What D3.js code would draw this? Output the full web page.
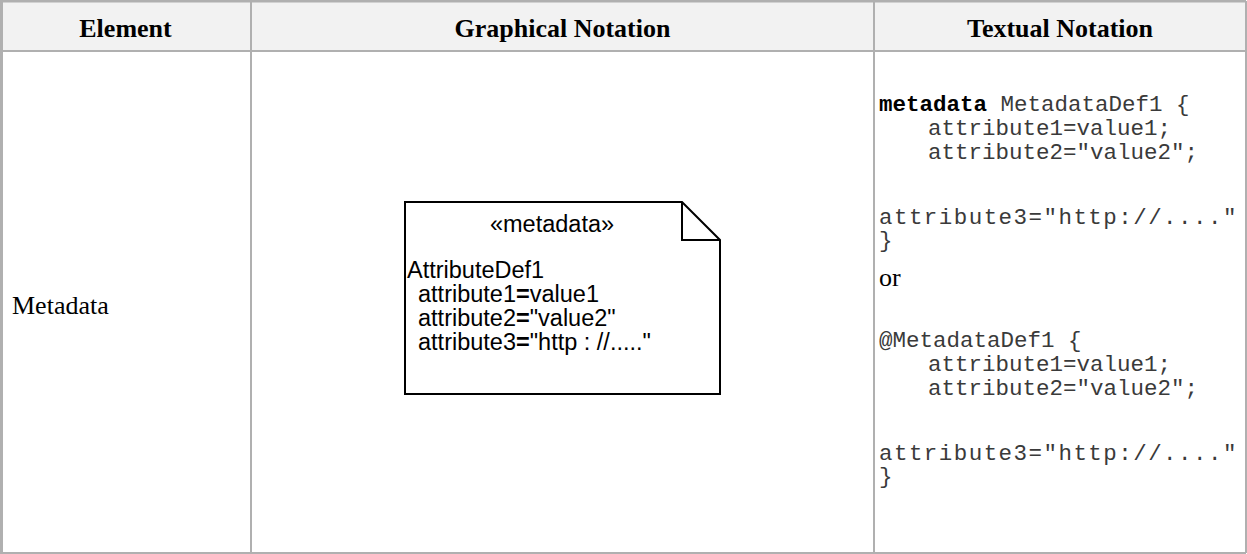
<!DOCTYPE html>
<html>
<head>
<meta charset="utf-8">
<script src="https://cdn.jsdelivr.net/npm/d3@7"></script>
<style>
  html, body { margin: 0; padding: 0; background: #fff; }
  svg { display: block; }
</style>
</head>
<body>
<svg id="chart" width="1247" height="554"></svg>
<script>
// ---- data ----
const columnHeaders = ["Element", "Graphical Notation", "Textual Notation"];
const columnEdges = [0, 251, 874, 1246];
const rowEdges = [1, 51, 553];
const elementName = "Metadata";
const noteStereotype = "«metadata»";
const noteName = "AttributeDef1";
const noteAttributes = [
  ["attribute1", "=", "value1"],
  ["attribute2", "=", "\"value2\""],
  ["attribute3", "=", "\"http : //.....\""]
];
const textualLines = [
  { bold: "metadata", text: " MetadataDef1 {", indent: false, row: 0, wide: false },
  { bold: "", text: "attribute1=value1;", indent: true, row: 1, wide: false },
  { bold: "", text: "attribute2=\"value2\";", indent: true, row: 2, wide: false },
  { bold: "", text: "attribute3=\"http://....\"", indent: false, row: 4.7, wide: true },
  { bold: "", text: "}", indent: false, row: 5.65, wide: false }
];
const orWord = "or";
const textualLines2 = [
  { bold: "", text: "@MetadataDef1 {", indent: false, row: 0, wide: false },
  { bold: "", text: "attribute1=value1;", indent: true, row: 1, wide: false },
  { bold: "", text: "attribute2=\"value2\";", indent: true, row: 2, wide: false },
  { bold: "", text: "attribute3=\"http://....\"", indent: false, row: 4.7, wide: true },
  { bold: "", text: "}", indent: false, row: 5.65, wide: false }
];

// ---- drawing ----
const svg = d3.select("#chart");
const border = "#b0b0b0";
const serif = "'Liberation Serif', 'Times New Roman', serif";
const sans = "'Liberation Sans', Arial, sans-serif";
const mono = "'Liberation Mono', 'Courier New', monospace";

// header background
svg.append("rect")
  .attr("x", columnEdges[0]).attr("y", rowEdges[0])
  .attr("width", columnEdges[3] - columnEdges[0])
  .attr("height", rowEdges[1] - rowEdges[0])
  .attr("fill", "#f2f2f2");

// grid lines
const g = svg.append("g").attr("stroke", border).attr("stroke-width", 2);
columnEdges.forEach((x, i) => {
  const xx = x + (i === 0 ? 1.5 : 0);
  g.append("line").attr("x1", xx).attr("x2", xx)
    .attr("y1", rowEdges[0]).attr("y2", rowEdges[2])
    .attr("stroke-width", i === 0 ? 3 : 2);
});
rowEdges.forEach((y, i) => {
  g.append("line").attr("x1", columnEdges[0]).attr("x2", columnEdges[3])
    .attr("y1", y).attr("y2", y)
    .attr("stroke-width", i === 0 ? 3 : 2);
});

// header texts
svg.selectAll("text.hdr").data(columnHeaders).join("text")
  .attr("class", "hdr")
  .attr("x", (d, i) => (columnEdges[i] + columnEdges[i + 1]) / 2)
  .attr("y", 37)
  .attr("text-anchor", "middle")
  .attr("font-family", serif)
  .attr("font-weight", "bold")
  .attr("font-size", 26)
  .attr("fill", "#000")
  .text(d => d);

// element name
svg.append("text")
  .attr("x", 12).attr("y", 314)
  .attr("font-family", serif)
  .attr("font-size", 26)
  .attr("fill", "#000")
  .text(elementName);

// note shape
const nx0 = 405, ny0 = 202, nx1 = 720, ny1 = 394, fold = 38;
svg.append("path")
  .attr("d", `M${nx0},${ny0} L${nx1 - fold},${ny0} L${nx1},${ny0 + fold} L${nx1},${ny1} L${nx0},${ny1} Z`)
  .attr("fill", "#fff").attr("stroke", "#000").attr("stroke-width", 2);
svg.append("path")
  .attr("d", `M${nx1 - fold},${ny0} L${nx1 - fold},${ny0 + fold} L${nx1},${ny0 + fold}`)
  .attr("fill", "none").attr("stroke", "#000").attr("stroke-width", 2);

svg.append("text")
  .attr("x", 552).attr("y", 232)
  .attr("text-anchor", "middle")
  .attr("font-family", sans).attr("font-size", 23.5)
  .text(noteStereotype);
svg.append("text")
  .attr("x", 407).attr("y", 278)
  .attr("font-family", sans).attr("font-size", 23.5)
  .text(noteName);
const attrT = svg.selectAll("text.attr").data(noteAttributes).join("text")
  .attr("class", "attr")
  .attr("x", 418)
  .attr("y", (d, i) => 302 + i * 24)
  .attr("font-family", sans).attr("font-size", 23.5);
attrT.append("tspan").text(d => d[0]);
attrT.append("tspan").attr("font-weight", "bold").text(d => d[1]);
attrT.append("tspan").text(d => d[2]);

// textual notation
function codeBlock(lines, top) {
  const t = svg.selectAll(null).data(lines).join("text")
    .attr("x", d => d.indent ? 928 : 879)
    .attr("y", d => top + d.row * 24)
    .attr("font-family", mono)
    .attr("font-size", 22.5)
    .attr("fill", "#3a3a3a")
    .attr("letter-spacing", d => d.wide ? 1.45 : 0)
    .attr("xml:space", "preserve");
  t.append("tspan").attr("font-weight", "bold").attr("fill", "#000").text(d => d.bold);
  t.append("tspan").text(d => d.text);
}
codeBlock(textualLines, 111);
svg.append("text")
  .attr("x", 879).attr("y", 286)
  .attr("font-family", serif)
  .attr("font-size", 26)
  .text(orWord);
codeBlock(textualLines2, 347);
</script>
</body>
</html>
